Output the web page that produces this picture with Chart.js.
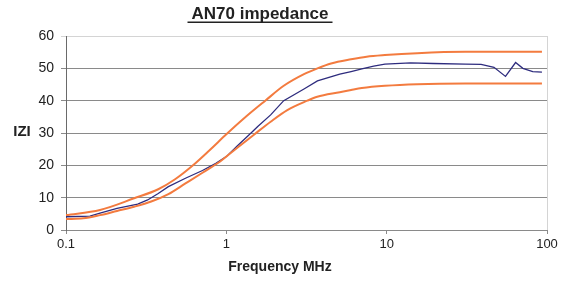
<!DOCTYPE html>
<html><head><meta charset="utf-8">
<script src="https://cdn.jsdelivr.net/npm/chart.js@4/dist/chart.umd.min.js"></script>
<style>html,body{margin:0;padding:0;background:#fff}#wrap{width:573px;height:285px}</style>
</head><body><div id="wrap"><canvas id="c" width="573" height="285"></canvas></div>
<script>
const chartTitle = "AN70 impedance";
const xTitle = "Frequency MHz";
const yTitle = "IZI";
const xTicks = [0.1, 1, 10, 100];
const yTicks = [0, 10, 20, 30, 40, 50, 60];

const freqUpper = [0.1,0.163,0.266,0.376,0.479,0.612,0.783,1.0,1.28,1.75,2.28,3.05,3.7,4.5,6.0,7.5,9.75,15.5,30.9,93];
const zUpper    = [4.6,6.2,9.8,12.6,15.7,19.8,24.6,29.6,34.4,40.0,44.6,48.2,50.0,51.5,52.8,53.6,54.1,54.7,55.1,55.1];

const freqLower = [0.1,0.128,0.163,0.208,0.266,0.34,0.435,0.556,0.71,0.91,1.16,1.48,1.89,2.4,3.2,3.69,5.1,6.0,7.0,9.75,15.5,30.9,93];
const zLower    = [3.4,3.6,4.6,5.9,7.2,8.8,11.1,14.4,17.7,21.1,25.3,29.4,33.5,37.1,40.0,41.2,42.6,43.3,43.9,44.6,45.1,45.3,45.3];

const freqMeas = [0.1,0.141,0.163,0.208,0.28,0.323,0.376,0.435,0.556,0.71,0.86,1.0,1.16,1.42,1.57,1.89,2.28,3.05,3.7,5.1,6.0,7.0,8.3,9.75,14.1,19.5,30.9,38.8,46.7,55.1,63.7,70.7,81.5,93];
const zMeas    = [4.1,4.3,5.2,6.7,8.0,9.3,11.3,13.4,16.0,18.4,20.6,22.7,25.8,29.9,32.0,35.6,40.0,43.6,46.1,48.2,49.0,49.8,50.7,51.3,51.7,51.5,51.3,51.2,50.3,47.5,51.8,50.0,49.0,48.8];

const pts = (xs, ys) => xs.map((x, i) => ({x: x, y: ys[i]}));

const textPlugin = {
  id: 'texts',
  afterDraw(chart) {
    const ctx = chart.ctx;
    const a = chart.chartArea;
    ctx.save();
    ctx.strokeStyle = '#d4d4d4';
    ctx.lineWidth = 1;
    ctx.beginPath();
    ctx.moveTo(Math.round(a.right) + 0.5, a.top);
    ctx.lineTo(Math.round(a.right) + 0.5, a.bottom);
    ctx.stroke();
    ctx.fillStyle = '#222';
    ctx.textAlign = 'center';
    ctx.textBaseline = 'middle';
    ctx.font = 'bold 17px "Liberation Sans", Arial, sans-serif';
    ctx.fillText(chartTitle, 260, 14);
    const w = ctx.measureText(chartTitle).width;
    ctx.fillRect(260 - w / 2 - 4, 21.5, w + 8, 1.5);
    ctx.font = 'bold 14px "Liberation Sans", Arial, sans-serif';
    ctx.fillText(xTitle, 280, 267);
    ctx.font = 'bold 15px "Liberation Sans", Arial, sans-serif';
    ctx.fillText(yTitle, 22, 132);
    ctx.restore();
  }
};

new Chart(document.getElementById('c'), {
  type: 'line',
  data: {
    datasets: [
      {label: 'upper', data: pts(freqUpper, zUpper), borderColor: '#F37B3F', borderWidth: 2, pointRadius: 0, cubicInterpolationMode: 'monotone', fill: false},
      {label: 'lower', data: pts(freqLower, zLower), borderColor: '#F37B3F', borderWidth: 2, pointRadius: 0, cubicInterpolationMode: 'monotone', fill: false},
      {label: 'measured', data: pts(freqMeas, zMeas), borderColor: '#2E2C7E', borderWidth: 1.3, pointRadius: 0, tension: 0, fill: false}
    ]
  },
  options: {
    responsive: false,
    animation: false,
    devicePixelRatio: 1,
    layout: {padding: {top: 36, right: 26, left: 0, bottom: 0}},
    plugins: {legend: {display: false}, title: {display: false}, tooltip: {enabled: false}},
    scales: {
      x: {
        type: 'logarithmic',
        min: 0.1, max: 100,
        afterBuildTicks(s) { s.ticks = xTicks.map(v => ({value: v})); },
        afterFit(s) { s.height = 55; },
        ticks: {
          color: '#222', padding: 3, maxRotation: 0,
          font: {family: '"Liberation Sans", Arial, sans-serif', size: 13},
          callback: (v) => String(v)
        },
        grid: {drawOnChartArea: false, drawTicks: true, tickLength: 4, color: '#8a8a8a'},
        border: {color: '#8a8a8a', width: 1}
      },
      y: {
        min: 0, max: 60,
        afterBuildTicks(s) { s.ticks = yTicks.map(v => ({value: v})); },
        afterFit(s) { s.width = 66; },
        ticks: {
          color: '#222', padding: 7,
          font: {family: '"Liberation Sans", Arial, sans-serif', size: 14}
        },
        grid: {
          color: (c) => c.tick && c.tick.value === 60 ? '#d4d4d4' : '#8a8a8a',
          tickLength: 5, lineWidth: 1
        },
        border: {color: '#6a6a6a', width: 1}
      }
    }
  },
  plugins: [textPlugin]
});
</script>
</body></html>
